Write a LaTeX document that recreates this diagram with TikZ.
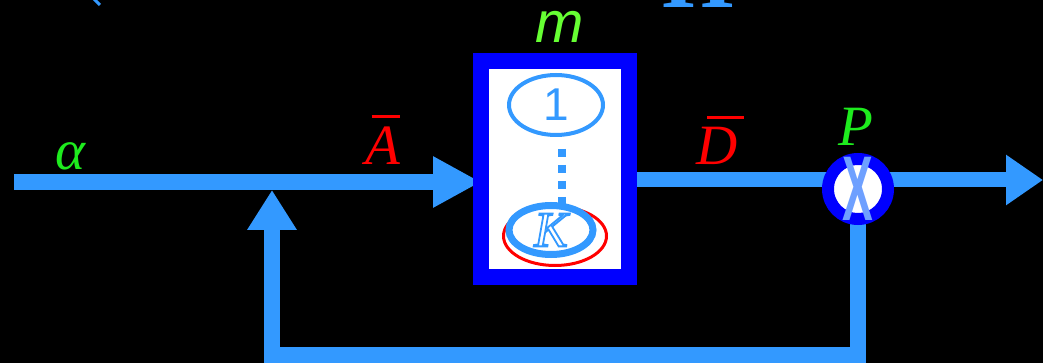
\documentclass[tikz,border=0pt]{standalone}
\usepackage{fontspec}
\setmainfont{Liberation Serif}
\setsansfont{Liberation Sans}
\usepackage{xcolor}
\usetikzlibrary{arrows.meta, shapes.geometric, backgrounds}

\definecolor{flow}{RGB}{51,153,255}
\definecolor{boxblue}{RGB}{0,0,255}
\definecolor{lblgreen}{RGB}{30,235,30}
\definecolor{mgreen}{RGB}{102,255,51}
\definecolor{xblue}{RGB}{110,160,255}

% outlined glyph and barred label
\newcommand{\hollow}[1]{\special{pdf:literal direct 1 Tr 1.8 w}#1\special{pdf:literal direct 0 Tr}}
\newcommand{\barred}[3]{\vbox{\offinterlineskip\hbox{\kern#1\vrule width #2 height 3pt}\kern 9pt\hbox{#3}}}

\begin{document}
\begin{tikzpicture}[x=1pt, y=-1pt,
  flowline/.style={line width=16pt, flow},
  lbl/.style={anchor=base, inner sep=0pt, font=\fontsize{57}{60}\selectfont\itshape}]
  \useasboundingbox (0,0) rectangle (1043,363);
  \begin{scope}[on background layer]
    \fill[black] (0,0) rectangle (1043,363);
  \end{scope}

  % block with units 1 ... K
  \node[draw=boxblue, fill=white, line width=16pt, outer sep=0pt, inner sep=0pt,
        minimum width=148pt, minimum height=216pt] (blk) at (555,169) {};
  \node[anchor=base, inner sep=0pt, text=mgreen, font=\fontsize{58}{58}\selectfont\sffamily\itshape] (mlbl) at (560,43) {m};
  \node[ellipse, draw=flow, line width=4pt, minimum width=94pt, minimum height=60pt, inner sep=0pt,
        text=flow, font=\fontsize{46}{46}\selectfont\sffamily] (u1) at (556,105) {1};
  \node[ellipse, draw=red, line width=3pt, minimum width=103pt, minimum height=59pt] (uKr) at (555,236) {};
  \node[ellipse, draw=flow, fill=white, line width=7pt, minimum width=84pt, minimum height=49pt, inner sep=0pt,
        text=flow, font=\fontsize{50}{50}\selectfont\itshape] (uK) at (551,230) {\hollow{K}};
  \draw[flow, line width=8pt, dash pattern=on 8pt off 8pt]
    ([shift={(6pt,-12pt)}]u1.south) -- ([shift={(6pt,-4pt)}]u1.south |- uK.north);

  % product point
  \node[circle, draw=boxblue, fill=white, line width=12pt, minimum size=60pt, inner sep=0pt, outer sep=0pt] (mult) at (858,189) {};
  \node[text=xblue, inner sep=0pt] (xmark) at (mult) {\scalebox{0.5}[1]{\fontsize{92}{92}\selectfont\sffamily\bfseries X}};

  % labels
  \node[lbl, text=lblgreen] (alab) at (70,170) {α};
  \node[lbl, text=red] (Alab) at (383,165) {\barred{6pt}{28pt}{A}};
  \node[lbl, text=red] (Dlab) at (720,165) {\barred{11pt}{37pt}{D}};
  \node[lbl, text=lblgreen] (Plab) at (856,146) {P};
  \node[anchor=base, text=flow, font=\fontsize{92}{92}\selectfont\bfseries] (ttl) at (698,8) {H};

  \coordinate (in) at (14,182);
  \coordinate (sum) at (272,190);
  \coordinate (fbk) at (272,355);
  \coordinate (out) at (1043,180);

  % connectors
  \begin{scope}[on background layer]
    \draw[flowline, -{Triangle[length=48pt, width=48pt]}] (in) -- (blk.west |- in);
    \draw[flowline, line width=15pt, -{Triangle[length=37pt, width=48pt]}] (blk.east |- out) -- (out);
    \draw[flowline, line join=miter, -{Triangle[length=40pt, width=47pt]}] (mult) -- (mult |- fbk) -- (fbk) -- (sum);
    \draw[flow, line width=3pt] (94,-1) -- (100,5);
  \end{scope}
\end{tikzpicture}
\end{document}
